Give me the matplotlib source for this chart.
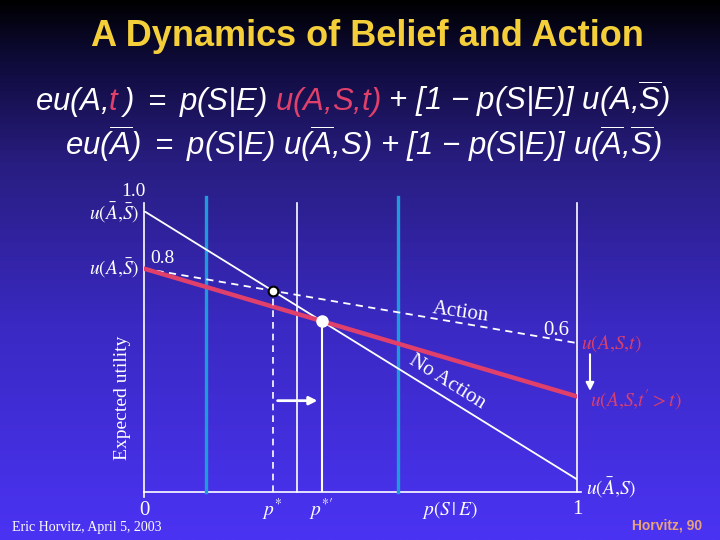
import matplotlib
matplotlib.use("Agg")
import matplotlib.pyplot as plt
import numpy as np
from matplotlib.colors import LinearSegmentedColormap

plt.rcParams["mathtext.fontset"] = "custom"
plt.rcParams["mathtext.rm"] = "Liberation Sans:italic"
plt.rcParams["mathtext.it"] = "Liberation Sans:italic"

# data: expected utility vs p(S|E), endpoints at p = 0 and p = 1
p_ends = [0.0, 1.0]
no_action = [1.0, 0.045]      # u(~A,~S) -> u(~A,S)
action_t = [0.795, 0.53]      # u(A,~S) -> u(A,S,t)
action_t2 = [0.795, 0.34]     # u(A,~S) -> u(A,S,t' > t)
cyan_x = [0.143, 0.587]
white_x = 0.353
guide_top = 1.05

W, H = 720, 540
fig = plt.figure(figsize=(W / 100, H / 100), dpi=100)


def fx(x):
    return x / W


def fy(y):
    return 1 - y / H


# slide background gradient
bg = fig.add_axes([0, 0, 1, 1])
cmap = LinearSegmentedColormap.from_list(
    "slide",
    [(0.0, "#000000"), (0.1, "#0d0a35"), (0.3, "#281d80"), (0.6, "#3a29c2"), (1.0, "#4b33f3")],
)
bg.imshow(np.linspace(0, 1, 256).reshape(-1, 1), aspect="auto", cmap=cmap, extent=[0, 1, 0, 1])
bg.set_xlim(0, 1)
bg.set_ylim(0, 1)
bg.axis("off")

# title and formulas
fig.text(fx(367), fy(36), "A Dynamics of Belief and Action", color="#f5cf3a",
         fontsize=26, fontweight="bold", family="Liberation Sans", ha="center", va="center")


def draw_runs(x, y, runs, **kw):
    # place coloured pieces one after another; dx is an extra kern in pixels
    renderer = fig.canvas.get_renderer()
    for s, color, dx in runs:
        t = fig.text(x + dx / W, y, s, color=color, **kw)
        bb = t.get_window_extent(renderer)
        x = fig.transFigure.inverted().transform((bb.x1, 0))[0]


red = "#e0406a"
eq_kw = dict(fontsize=22.4, va="baseline", math_fontfamily="custom")
draw_runs(fx(35), fy(110), [
    (r"$eu(A{,}$", "white", 0),
    (r"$t$", red, 0),
    (r"$)\ {=}\ p(S|E)$", "white", 0),
    (r"$u(A{,}S{,}t)$", red, 8),
    (r"$\ {+}\ [1\ {-}\ p(S|E)]\ u(A{,}\overline{S})$", "white", 0),
], **eq_kw)
draw_runs(fx(65), fy(155), [
    (r"$eu(\overline{A})\ {=}\ p(S|E)\ u(\overline{A}{,}S)\ {+}\ [1\ {-}\ p(S|E)]\ u(\overline{A}{,}\overline{S})$",
     "white", 0),
], **eq_kw)

# chart area
ax = fig.add_axes([fx(144), fy(492), fx(577 - 144), (492 - 211) / H])
ax.set_xlim(0, 1)
ax.set_ylim(0, 1)
ax.axis("off")

# frame
ax.plot([0, 0], [0, 1.03], color="white", lw=1.2, clip_on=False)
ax.plot([1, 1], [0, 1.03], color="white", lw=1.2, clip_on=False)
ax.plot([0, 1.01], [0, 0], color="white", lw=1.2, clip_on=False)
ax.plot([0, 0], [0, -0.018], color="white", lw=1.2, clip_on=False)

for cx in cyan_x:
    ax.plot([cx, cx], [0, guide_top], color="#1e9bd8", lw=2.4, clip_on=False)
ax.plot([white_x, white_x], [0, 1.03], color="white", lw=1.2, clip_on=False)

ax.plot(p_ends, no_action, color="white", lw=1.3)
ax.plot(p_ends, action_t, color="white", lw=1.3, ls=(0, (4, 3)))
ax.plot(p_ends, action_t2, color=red, lw=3.2)


def crossing(a, b):
    sa = a[1] - a[0]
    sb = b[1] - b[0]
    p = (b[0] - a[0]) / (sa - sb)
    return p, a[0] + sa * p


p1, u1 = crossing(no_action, action_t)
p2, u2 = crossing(no_action, action_t2)
ax.plot([p1, p1], [0, u1], color="white", lw=1.2, ls=(0, (4, 3)))
ax.plot([p2, p2], [0, u2], color="white", lw=1.5)
ax.plot(p1, u1, "o", ms=7, mfc="white", mec="black", mew=1.5, zorder=5)
ax.plot(p2, u2, "o", ms=8, mfc="white", mec="white", zorder=5)
ax.annotate("", xy=(p2 - 0.003, 0.325), xytext=(p1 + 0.005, 0.325),
            arrowprops=dict(arrowstyle="-|>", color="white", lw=2, mutation_scale=12))
ax.annotate("", xy=(1.03, 0.35), xytext=(1.03, 0.5),
            arrowprops=dict(arrowstyle="-|>", color="white", lw=1.5, mutation_scale=12),
            annotation_clip=False)

serif = dict(family="Liberation Serif", color="white", math_fontfamily="stix")
ax.text(-0.025, 1.07, "1.0", fontsize=14, ha="center", va="center", **serif)
ax.text(0.042, 0.83, "0.8", fontsize=14, ha="center", va="center", **serif)
ax.text(-0.012, 0.993, r"$u(\bar{A}{,}\bar{S})$", fontsize=14, ha="right", va="center", **serif)
ax.text(-0.012, 0.797, r"$u(A{,}\bar{S})$", fontsize=14, ha="right", va="center", **serif)
ax.text(-0.05, 0.335, "Expected utility", fontsize=14, rotation=90, ha="center", va="center", **serif)
ax.text(0.0, -0.065, "0", fontsize=15, ha="center", va="center", **serif)
ax.text(1.0, -0.063, "1", fontsize=15, ha="center", va="center", **serif)
ax.text(p1, -0.065, r"$p^{*}$", fontsize=14, ha="center", va="center", **serif)
ax.text(p2, -0.065, r"$p^{*\prime}$", fontsize=14, ha="center", va="center", **serif)
ax.text(0.707, -0.065, r"$p(S\,|\,E)$", fontsize=14, ha="center", va="center", **serif)
ax.text(0.73, 0.64, "Action", fontsize=15, rotation=-8, ha="center", va="center", **serif)
ax.text(0.70, 0.39, "No Action", fontsize=15, rotation=-32, ha="center", va="center", **serif)
ax.text(0.952, 0.575, "0.6", fontsize=15, ha="center", va="center", **serif)
ax.text(1.01, 0.527, r"$u(A{,}S{,}t)$", fontsize=14, ha="left", va="center",
        family="Liberation Serif", color="#d8406e", math_fontfamily="stix")
ax.text(1.03, 0.327, r"$u(A{,}S{,}t^{\prime}>t)$", fontsize=14, ha="left", va="center",
        family="Liberation Serif", color="#d8406e", math_fontfamily="stix")
ax.text(1.02, 0.015, r"$u(\bar{A}{,}S)$", fontsize=14, ha="left", va="center", **serif)

fig.text(fx(12), fy(528), "Eric Horvitz, April 5, 2003", fontsize=10, ha="left", va="center",
         family="Liberation Serif", color="white")
fig.text(fx(667), fy(525), "Horvitz, 90", fontsize=10, fontweight="bold", ha="center", va="center",
         family="Liberation Sans", color="#e8a27a")

fig.savefig("out.png", dpi=100)
